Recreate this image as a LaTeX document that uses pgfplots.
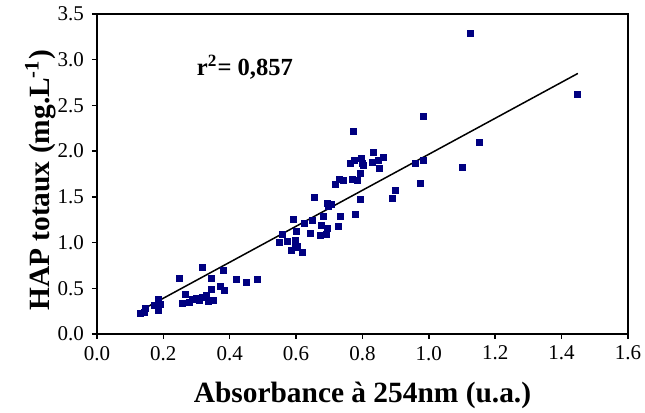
\documentclass[border=0pt]{standalone}
\usepackage{fontspec}
\setmainfont{Liberation Serif}
\usepackage{pgfplots}
\pgfplotsset{compat=1.18}
\definecolor{pointblue}{RGB}{0,0,128}

\begin{document}
\begin{tikzpicture}
\path[use as bounding box] (-48.5pt,-39.5pt) rectangle (274pt,167pt);
\begin{axis}[
    scale only axis,
    width=265.5pt, height=160pt,
    xmin=0, xmax=1.6, ymin=0, ymax=3.5,
    xtick={0,0.2,...,1.6}, ytick={0,0.5,...,3.5},
    xtick pos=bottom, ytick pos=left,
    tick align=outside, major tick length=2.5pt,
    axis line style={line width=0.75pt},
    every tick/.style={black, line width=0.75pt},
    ticklabel style={font=\fontsize{10.5}{12}\selectfont},
    yticklabel style={xshift=-0.5pt},
    /pgf/number format/assume math mode=true,
    /pgf/number format/.cd, fixed, fixed zerofill, precision=1, /pgfplots/.cd,
    xlabel={\textbf{Absorbance à 254nm (u.a.)}},
    ylabel={\textbf{HAP totaux (mg.L\textsuperscript{-1})}},
    label style={font=\fontsize{14.7}{16}\selectfont},
    xlabel style={at={(axis description cs:0.5,0)}, anchor=base, yshift=-34.5pt},
    ylabel style={at={(axis description cs:-0.0904,0.48)}, anchor=base},
]
\addplot[only marks, mark=square*, mark size=1.5pt, color=pointblue] coordinates {
    (0.130,0.228) (0.142,0.239) (0.145,0.283) (0.172,0.315) (0.184,0.380)
    (0.184,0.261) (0.190,0.326) (0.247,0.609) (0.256,0.337) (0.265,0.435)
    (0.277,0.348) (0.286,0.380) (0.301,0.391) (0.310,0.370) (0.319,0.728)
    (0.319,0.402) (0.331,0.424) (0.337,0.359) (0.350,0.370) (0.346,0.489)
    (0.346,0.609) (0.371,0.522) (0.380,0.696) (0.383,0.478) (0.419,0.598)
    (0.449,0.565) (0.482,0.598)
    (0.985,2.380) (0.774,2.217) (1.151,2.098) (0.832,1.989) (0.862,1.935)
    (0.798,1.924) (0.765,1.870) (0.777,1.902) (0.801,1.870) (0.829,1.880)
    (0.847,1.902) (0.850,1.815) (0.804,1.848) (0.795,1.761) (0.958,1.870)
    (0.985,1.902) (1.100,1.826) (0.973,1.652) (0.729,1.696) (0.741,1.685)
    (0.717,1.641) (0.771,1.696) (0.786,1.685) (0.898,1.576) (0.889,1.478)
    (0.795,1.467) (0.654,1.489) (0.693,1.424) (0.705,1.413) (0.696,1.391)
    (0.780,1.304) (0.732,1.283) (0.681,1.283) (0.648,1.239) (0.591,1.250)
    (0.624,1.207) (0.675,1.185) (0.693,1.152) (0.726,1.174) (0.600,1.120)
    (0.642,1.098) (0.672,1.076) (0.690,1.087) (0.560,1.087) (0.551,1.000)
    (0.575,1.011) (0.597,1.022) (0.603,0.957) (0.585,0.913) (0.597,0.946)
    (0.618,0.891)
    (1.124,3.283) (1.449,2.620)
};
\addplot[black, line width=0.75pt] coordinates {(0.143,0.279) (1.449,2.85)};
\node[font=\fontsize{12.3}{14}\selectfont\bfseries] at (axis cs:0.446,2.92) {r\textsuperscript{2}= 0,857};
\end{axis}
\end{tikzpicture}
\end{document}
